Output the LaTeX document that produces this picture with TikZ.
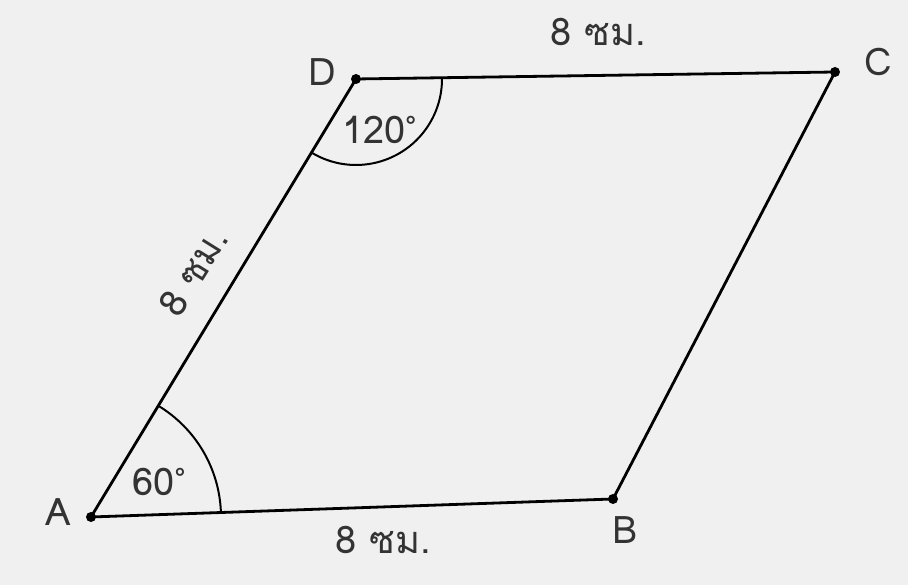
\documentclass[tikz,border=0pt]{standalone}
\usepackage{fontspec}
\setmainfont[Script=Thai]{Loma}
\usetikzlibrary{calc}

\newcommand{\degmark}{\raisebox{0.55ex}{\fontsize{22}{22}\selectfont°}}

\begin{document}
\begin{tikzpicture}[x=1pt,y=1pt,
  side/.style={line width=2.8pt,line join=round},
  vdot/.style={circle,fill=black,inner sep=0pt,minimum size=10pt},
  lbl/.style={font=\fontsize{38}{44}\selectfont,text=black!80}]
  \fill[black!6] (0,0) rectangle (908,585);
  \useasboundingbox (0,0) rectangle (908,585);
  \coordinate (A) at (91,68);
  \coordinate (B) at (613,86);
  \coordinate (C) at (835,513);
  \coordinate (D) at (356,506);
  \draw[side] (A) -- (B) -- (C) -- (D) -- cycle;
  \node[vdot] (a) at (A) {};
  \node[vdot] (b) at (B) {};
  \node[vdot] (c) at (C) {};
  \node[vdot] (d) at (D) {};
  % angle arcs
  \draw[line width=2pt] ($(A)+(2:130)$) arc[start angle=2,end angle=58.8,radius=130];
  \draw[line width=2pt] ($(D)+(-121.2:86)$) arc[start angle=-121.2,end angle=0.8,radius=86];
  \node[lbl] (la) at (58,73) {A};
  \node[lbl] (lb) at (625,55) {B};
  \node[lbl] (lc) at (878,523) {C};
  \node[lbl] (ld) at (322,513) {D};
  \node[lbl] (angA) at (159,103) {60\degmark};
  \node[lbl] (angD) at (379,455) {120\degmark};
  \node[lbl] (sAB) at (383,45) {8 ซม.};
  \node[lbl] (sDC) at (598,553) {8 ซม.};
  \node[lbl,rotate=58] (sAD) at (193,313) {8 ซม.};
\end{tikzpicture}
\end{document}
